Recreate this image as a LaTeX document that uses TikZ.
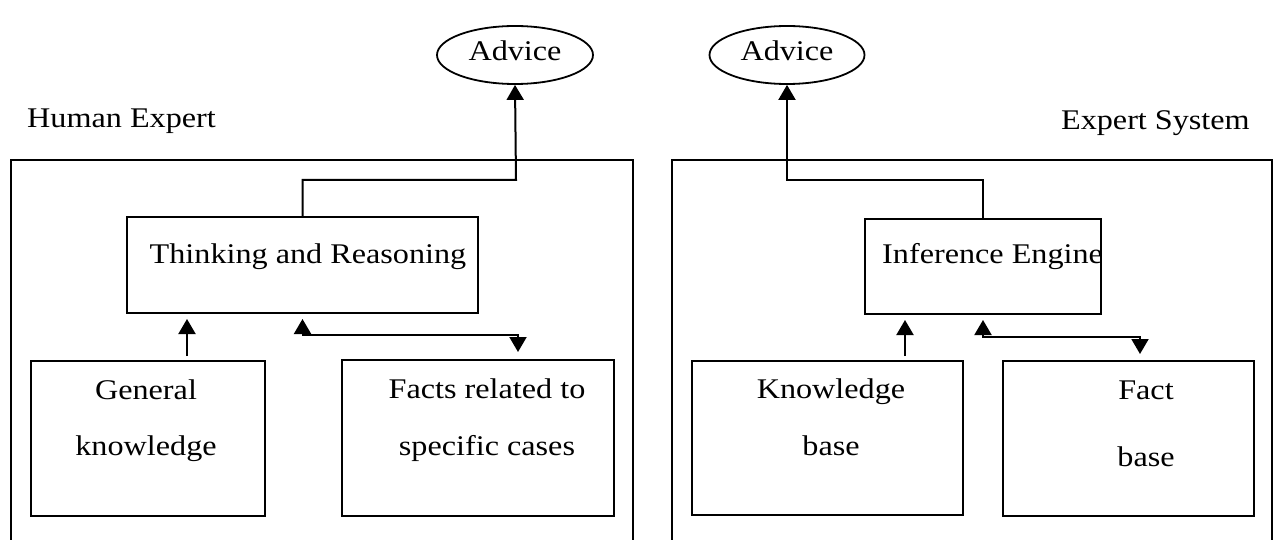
\documentclass[tikz,border=0pt]{standalone}
\usepackage{fontspec}
\setmainfont{Liberation Serif}[FakeStretch=1.13]
\usetikzlibrary{arrows.meta,shapes.geometric}

\tikzset{
  >={Triangle[length=15pt,width=17pt]},
  frame/.style={draw, line width=2pt},
  box/.style={draw, line width=2pt, rectangle, inner sep=0pt},
  bubble/.style={draw, line width=1.8pt, ellipse, inner sep=0pt,
    minimum width=156pt, minimum height=58pt, text height=12pt, text depth=0pt},
  txt/.style={inner sep=0pt, anchor=base},
  conn/.style={->, line width=2pt},
  twoway/.style={<->, line width=2pt},
}

\begin{document}
\begin{tikzpicture}[x=1pt, y=-1pt, font=\fontsize{28.5}{34}\selectfont]
  \useasboundingbox (0,0) rectangle (1277,540);

  % ---- Human expert side ----
  \node[bubble] (advL) at (515,55) {Advice};
  \node[txt, anchor=base west] (heLabel) at (27,128) {Human Expert};
  \draw[frame] (11,541) |- (633,160) -- (633,541);

  \node[box, minimum width=351pt, minimum height=96pt] (tr) at (302.5,265) {};
  \node[txt] (trText) at (308,263) {Thinking and Reasoning};

  \node[box, minimum width=234pt, minimum height=155pt] (gk) at (148,438.5) {};
  \node[txt] (gkText1) at (146,399) {General};
  \node[txt] (gkText2) at (146,455) {knowledge};

  \node[box, minimum width=272pt, minimum height=156pt] (facts) at (478,438) {};
  \node[txt] (factsText1) at (487,398) {Facts related to};
  \node[txt] (factsText2) at (487,455) {specific cases};

  \coordinate (elbowL) at (516,180);
  \coordinate (gkPort) at (187,0);
  \coordinate (bendL) at (518,335);

  \draw[conn] (tr.north) |- (elbowL) -- (advL.south);
  \draw[conn, shorten <=4pt, shorten >=5pt] (gk.north -| gkPort) -- (tr.south -| gkPort);
  \draw[twoway, shorten <=5pt, shorten >=7pt] (tr.south) |- (bendL) -- (facts.north -| bendL);

  % ---- Expert system side ----
  \node[bubble, minimum width=155pt] (advR) at (787,55) {Advice};
  \node[txt, anchor=base east] (esLabel) at (1250,130) {Expert System};
  \draw[frame] (672,541) |- (1272,160) -- (1272,541);

  \node[box, minimum width=236pt, minimum height=95pt] (ie) at (983,266.5) {};
  \node[txt, anchor=base west] (ieText) at (882,263) {Inference Engine};

  \node[box, minimum width=271pt, minimum height=154pt] (kb) at (827.5,438) {};
  \node[txt] (kbText1) at (831,398) {Knowledge};
  \node[txt] (kbText2) at (831,455) {base};

  \node[box, minimum width=251pt, minimum height=155pt] (fb) at (1128.5,438.5) {};
  \node[txt] (fbText1) at (1146,399) {Fact};
  \node[txt] (fbText2) at (1146,466) {base};

  \coordinate (elbowR) at (787,180);
  \coordinate (kbPort) at (905,0);
  \coordinate (bendR) at (1140,337);

  \draw[conn] (ie.north) |- (elbowR) -- (advR.south);
  \draw[conn, shorten <=4pt, shorten >=5pt] (kb.north -| kbPort) -- (ie.south -| kbPort);
  \draw[twoway, shorten <=5pt, shorten >=6pt] (ie.south) |- (bendR) -- (fb.north -| bendR);
\end{tikzpicture}
\end{document}
